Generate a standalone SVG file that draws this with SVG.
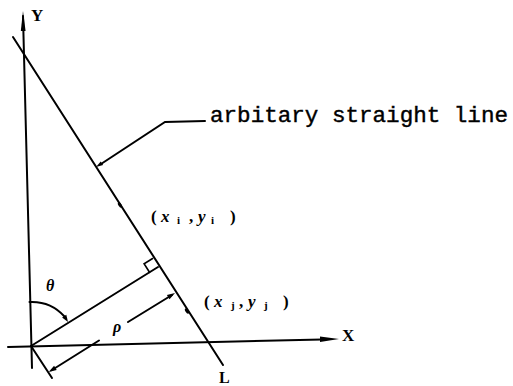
<svg xmlns="http://www.w3.org/2000/svg" width="513" height="386" viewBox="0 0 513 386">
<style>
.ln{stroke:#000;stroke-width:2;fill:none;stroke-linecap:round}
.ah{fill:#000;stroke:none}
.ax{font-family:"Liberation Serif",serif;font-weight:bold;font-size:17px;fill:#000}
.pt{font-family:"Liberation Serif",serif;font-weight:bold;font-size:17px;fill:#000}
.sub{font-size:11px}
.gr{font-family:"Liberation Serif",serif;font-style:italic;font-weight:bold;font-size:16px;fill:#000}
.mono{font-family:"Liberation Mono",monospace;font-size:22px;fill:#000;stroke:#000;stroke-width:0.4}
</style>
<g id="axes">
<line class="ln" x1="23" y1="16" x2="32" y2="368"/>
<polygon class="ah" points="23,11 25.6,31 20.8,31"/>
<line class="ln" x1="8" y1="347" x2="322" y2="339.5"/>
<polygon class="ah" points="339,339 320,336.5 320,342"/>
<text class="ax" x="31" y="21">Y</text>
<text class="ax" x="342" y="341">X</text>
</g>
<g id="line-L">
<line class="ln" x1="13" y1="37" x2="223" y2="365"/>
<ellipse cx="120" cy="205" rx="3" ry="1.6" transform="rotate(57.6 120 205)" class="ah"/>
<ellipse cx="187" cy="311" rx="3" ry="1.6" transform="rotate(57.6 187 311)" class="ah"/>
<text class="ax" style="font-size:16px" x="219" y="383">L</text>
</g>
<g id="perpendicular">
<line class="ln" x1="31" y1="346" x2="158" y2="267"/>
<polyline class="ln" style="stroke-width:1.6" points="152.6,258.5 144.1,263.8 149.5,272.3"/>
<line class="ln" x1="31" y1="346" x2="52" y2="378"/>
</g>
<g id="rho-dimension">
<line class="ln" x1="52" y1="370" x2="99" y2="340.5"/>
<line class="ln" x1="128" y1="322" x2="172" y2="295"/>
<polygon class="ah" points="48.6,372 56.7,369.9 54.1,365.7"/>
<polygon class="ah" points="175,293 169.5,299.3 166.9,295.1"/>
<text class="gr" x="113" y="332">ρ</text>
</g>
<g id="theta">
<path class="ln" d="M29.5,302 A44,44 0 0 1 64.5,316.5"/>
<polygon class="ah" points="68,322 66.3,314.7 62.1,317.5"/>
<text class="gr" x="46" y="291">θ</text>
</g>
<g id="connectors">
<polyline class="ln" points="101,164 165,122 205,121"/>
<polygon class="ah" points="96,167 103.1,165 100.7,161.4"/>
</g>
<g id="label-line">
<text class="mono" x="210" y="122" textLength="298" lengthAdjust="spacingAndGlyphs">arbitary straight line</text>
</g>
<g id="point-i">
<text class="pt" y="222"><tspan x="151">(</tspan><tspan x="161" font-style="italic">x</tspan><tspan x="177" dy="2" class="sub">i</tspan><tspan x="189" dy="-2">,</tspan><tspan x="198" font-style="italic">y</tspan><tspan x="211" dy="2" class="sub">i</tspan><tspan x="230" dy="-2">)</tspan></text>
</g>
<g id="point-j">
<text class="pt" y="307"><tspan x="204">(</tspan><tspan x="214" font-style="italic">x</tspan><tspan x="231" dy="2" class="sub">j</tspan><tspan x="239" dy="-2">,</tspan><tspan x="248" font-style="italic">y</tspan><tspan x="264" dy="2" class="sub">j</tspan><tspan x="283" dy="-2">)</tspan></text>
</g>
</svg>
